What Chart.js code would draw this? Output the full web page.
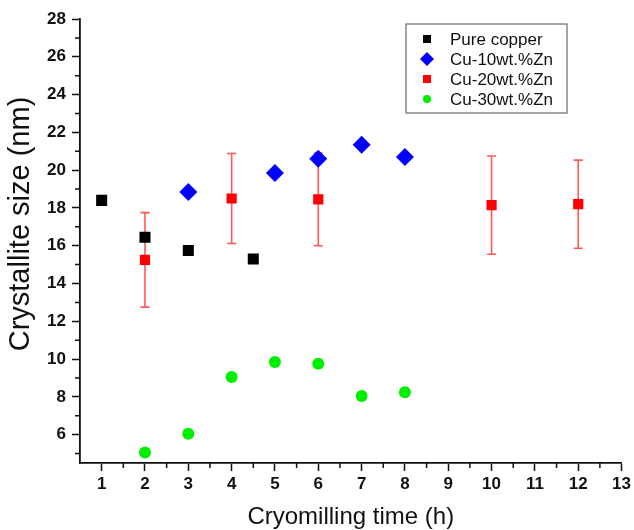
<!DOCTYPE html>
<html>
<head>
<meta charset="utf-8">
<script src="https://cdn.jsdelivr.net/npm/chart.js@4"></script>
<style>
  html, body { margin: 0; padding: 0; background: #fff; }
  canvas { display: block; }
</style>
</head>
<body>
<canvas id="myChart" width="634" height="530"></canvas>
<script>
// crystallite size vs cryomilling time
let pureX = [1, 2, 3, 4.5]
let pureY = [18.4, 16.45, 15.75, 15.3]

let cu10X = [3, 5, 6, 7, 8]
let cu10Y = [18.85, 19.85, 20.6, 21.35, 20.7]

let cu20X = [2, 4, 6, 10, 12]
let cu20Y = [15.25, 18.5, 18.45, 18.15, 18.2]
let cu20Err = [2.5, 2.38, 2.45, 2.6, 2.33]

let cu30X = [2, 3, 4, 5, 6, 7, 8]
let cu30Y = [5.05, 6.05, 9.05, 9.85, 9.75, 8.05, 8.25]

let xTicks = [1, 2, 3, 4, 5, 6, 7, 8, 9, 10, 11, 12, 13]
let yTicks = [6, 8, 10, 12, 14, 16, 18, 20, 22, 24, 26, 28]

const FONT = "'Liberation Sans', Arial, Helvetica, sans-serif"

const pts = (xs, ys) => xs.map((x, i) => ({x: x, y: ys[i]}))

// red error bars, drawn under the points
const errorBars = {
    id: 'errorBars',
    beforeDatasetsDraw(chart) {
        const ctx = chart.ctx
        const xs = chart.scales.x, ys = chart.scales.y
        ctx.save()
        ctx.strokeStyle = 'rgba(255,70,70,0.9)'
        ctx.lineWidth = 1.6
        for (let i = 0; i < cu20X.length; i++) {
            const px = xs.getPixelForValue(cu20X[i])
            const top = ys.getPixelForValue(cu20Y[i] + cu20Err[i])
            const bot = ys.getPixelForValue(cu20Y[i] - cu20Err[i])
            ctx.beginPath()
            ctx.moveTo(px, top); ctx.lineTo(px, bot)
            ctx.moveTo(px - 4.5, top); ctx.lineTo(px + 4.5, top)
            ctx.moveTo(px - 4.5, bot); ctx.lineTo(px + 4.5, bot)
            ctx.stroke()
        }
        ctx.restore()
    }
}

// short minor ticks between the labelled ones, plus the y title
const minorTicks = {
    id: 'minorTicks',
    afterDraw(chart) {
        const ctx = chart.ctx
        const xs = chart.scales.x, ys = chart.scales.y
        const area = chart.chartArea
        ctx.save()
        ctx.strokeStyle = '#111'
        ctx.lineWidth = 1.5
        ctx.beginPath()
        for (let v = 1.5; v < 13; v += 1) {
            const px = xs.getPixelForValue(v)
            ctx.moveTo(px, area.bottom); ctx.lineTo(px, area.bottom + 5)
        }
        for (let v = 5; v < 28; v += 2) {
            const py = ys.getPixelForValue(v)
            ctx.moveTo(area.left, py); ctx.lineTo(area.left - 5, py)
        }
        ctx.stroke()

        ctx.translate(21, 224)
        ctx.rotate(-Math.PI / 2)
        ctx.fillStyle = '#111'
        ctx.font = '29px ' + FONT
        ctx.textAlign = 'center'
        ctx.textBaseline = 'middle'
        ctx.fillText('Crystallite size (nm)', 0, 0)
        ctx.restore()
    }
}

// boxed legend in the upper right corner
const boxLegend = {
    id: 'boxLegend',
    afterDraw(chart) {
        const ctx = chart.ctx
        const left = 406, top = 24, w = 161, h = 89
        ctx.save()
        ctx.fillStyle = '#fff'
        ctx.fillRect(left, top, w, h)
        ctx.strokeStyle = '#777'
        ctx.lineWidth = 1.3
        ctx.strokeRect(left, top, w, h)
        ctx.font = '17px ' + FONT
        ctx.textBaseline = 'middle'
        chart.data.datasets.forEach((ds, i) => {
            const cy = top + 15 + i * 20
            const cx = 427
            ctx.fillStyle = ds.backgroundColor
            ctx.beginPath()
            if (ds.pointStyle === 'rectRot') {
                ctx.moveTo(cx - 7, cy); ctx.lineTo(cx, cy - 7)
                ctx.lineTo(cx + 7, cy); ctx.lineTo(cx, cy + 7)
                ctx.closePath()
            } else if (ds.pointStyle === 'circle') {
                ctx.arc(cx, cy, 4, 0, Math.PI * 2)
            } else {
                ctx.rect(cx - 4, cy - 4, 8, 8)
            }
            ctx.fill()
            ctx.fillStyle = '#111'
            ctx.fillText(ds.label, 450, cy + 1)
        })
        ctx.restore()
    }
}

let data = {
    datasets: [{
        label: 'Pure copper',
        data: pts(pureX, pureY),
        pointStyle: 'rect',
        pointRadius: 7.8,
        backgroundColor: '#000',
        borderColor: '#000',
        borderWidth: 0
    }, {
        label: 'Cu-10wt.%Zn',
        data: pts(cu10X, cu10Y),
        pointStyle: 'rectRot',
        pointRadius: 9,
        backgroundColor: '#0000ff',
        borderColor: '#0000ff',
        borderWidth: 0
    }, {
        label: 'Cu-20wt.%Zn',
        data: pts(cu20X, cu20Y),
        pointStyle: 'rect',
        pointRadius: 7.2,
        backgroundColor: '#ff0000',
        borderColor: '#ff0000',
        borderWidth: 0
    }, {
        label: 'Cu-30wt.%Zn',
        data: pts(cu30X, cu30Y),
        pointStyle: 'circle',
        pointRadius: 6,
        backgroundColor: '#00ee00',
        borderColor: '#00ee00',
        borderWidth: 0
    }]
}

let config = {
    type: 'scatter',
    data: data,
    options: {
        responsive: false,
        animation: false,
        layout: { padding: { top: 19, right: 12, left: 0, bottom: 0 } },
        plugins: {
            legend: { display: false },
            tooltip: { enabled: false }
        },
        scales: {
            x: {
                type: 'linear',
                min: 0.5,
                max: 13,
                afterBuildTicks: s => { s.ticks = xTicks.map(v => ({value: v})) },
                afterFit: s => { s.height = 67 },
                grid: { drawOnChartArea: false, tickLength: 8, tickWidth: 1.5, tickColor: '#111' },
                border: { color: '#111', width: 1.8 },
                ticks: { color: '#111', padding: 3, font: { family: FONT, size: 17, weight: 'bold' } },
                title: {
                    display: true,
                    text: 'Cryomilling time (h)',
                    color: '#111',
                    font: { family: FONT, size: 24 },
                    padding: { top: 0, bottom: -2 }
                }
            },
            y: {
                type: 'linear',
                min: 4.5,
                max: 28,
                afterBuildTicks: s => { s.ticks = yTicks.map(v => ({value: v})) },
                afterFit: s => { s.width = 80 },
                grid: { drawOnChartArea: false, tickLength: 8, tickWidth: 1.5, tickColor: '#111' },
                border: { color: '#111', width: 1.8 },
                ticks: { color: '#111', padding: 6, font: { family: FONT, size: 17, weight: 'bold' } },
                title: { display: false }
            }
        }
    },
    plugins: [errorBars, minorTicks, boxLegend]
}

let myChart = new Chart(document.getElementById('myChart'), config)
</script>
</body>
</html>
